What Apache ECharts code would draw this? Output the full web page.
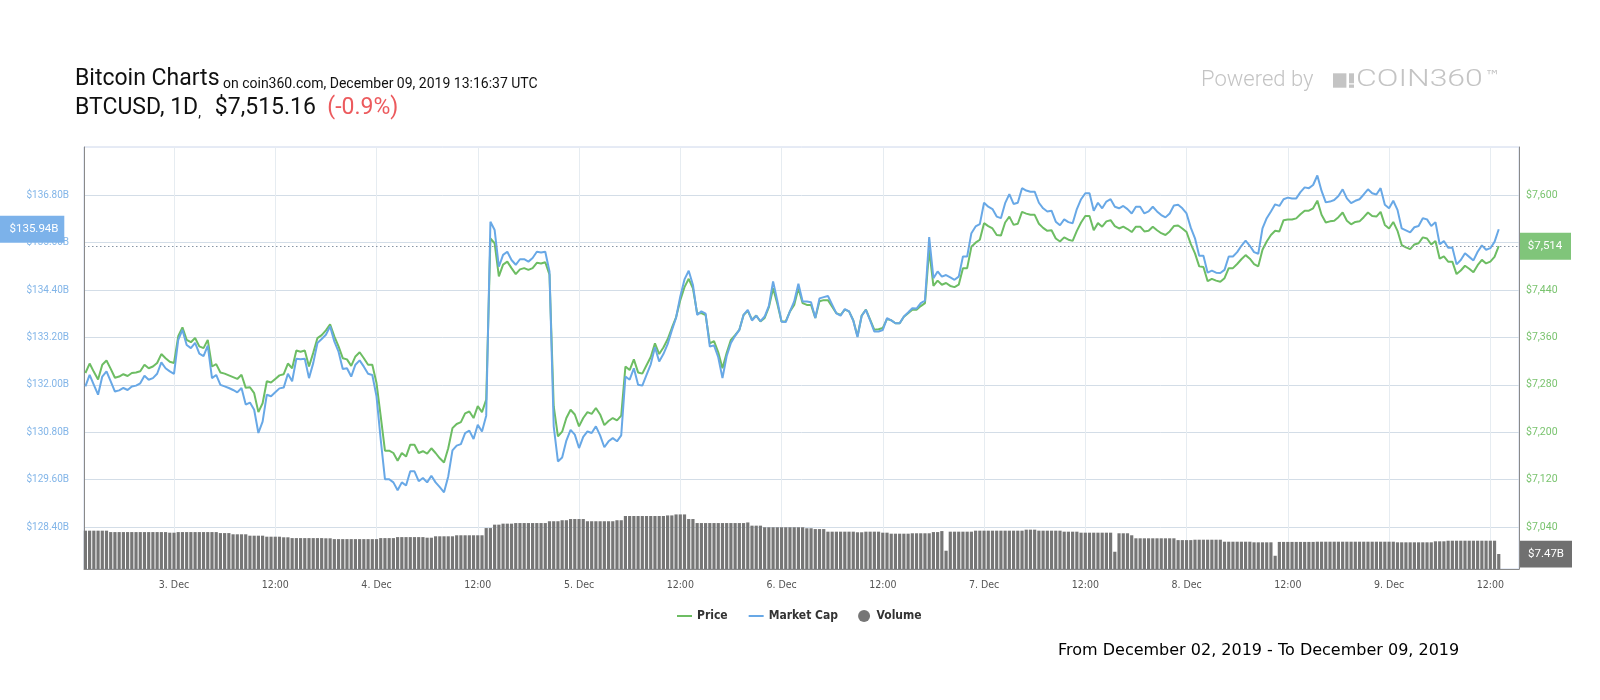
<!DOCTYPE html>
<html><head><meta charset="utf-8">
<script src="https://cdn.jsdelivr.net/npm/echarts@6/dist/echarts.min.js"></script>
<style>html,body{margin:0;padding:0;background:#fff}#c{width:1600px;height:700px}</style>
</head><body><div id="c"></div>
<script>
// 30-minute points from 2 Dec 2019 13:30 UTC to 9 Dec 2019 13:00 UTC
const startTime = Date.UTC(2019, 11, 2, 13, 30);
const stepMs = 30 * 60 * 1000;

const price = [
7300,7316,7302,7289,7314,7321,7307,7292,7294,7298,
7295,7300,7301,7303,7314,7308,7311,7317,7332,7325,
7319,7317,7362,7377,7356,7352,7359,7345,7342,7356,
7311,7315,7301,7299,7296,7293,7290,7297,7275,7276,
7266,7234,7249,7286,7284,7290,7296,7298,7316,7308,
7338,7336,7338,7311,7334,7359,7364,7372,7382,7362,
7345,7325,7323,7312,7328,7335,7325,7314,7314,7283,
7227,7169,7169,7165,7152,7165,7159,7179,7179,7165,
7168,7164,7173,7165,7156,7149,7173,7207,7214,7217,
7232,7235,7224,7244,7234,7255,7527,7519,7463,7483,
7488,7477,7467,7475,7477,7474,7477,7486,7485,7487,
7466,7244,7193,7201,7224,7238,7230,7210,7224,7234,
7231,7241,7230,7212,7219,7224,7220,7228,7311,7305,
7323,7301,7299,7313,7327,7350,7332,7343,7357,7376,
7394,7423,7445,7459,7443,7401,7401,7398,7350,7354,
7335,7308,7334,7356,7364,7373,7398,7405,7390,7397,
7387,7393,7411,7443,7417,7387,7387,7404,7415,7443,
7418,7415,7415,7393,7421,7423,7423,7412,7401,7398,
7407,7404,7389,7362,7397,7407,7390,7373,7374,7376,
7391,7389,7384,7384,7395,7401,7407,7407,7413,7418,
7508,7447,7456,7449,7452,7447,7445,7449,7477,7477,
7513,7520,7525,7553,7548,7544,7533,7532,7554,7564,
7550,7552,7572,7569,7567,7567,7552,7545,7540,7541,
7527,7522,7529,7525,7523,7540,7554,7565,7565,7541,
7553,7547,7556,7558,7548,7544,7547,7543,7538,7547,
7547,7539,7540,7547,7541,7536,7533,7539,7548,7549,
7544,7538,7518,7502,7480,7479,7455,7459,7456,7454,
7460,7477,7477,7484,7492,7499,7493,7484,7480,7508,
7522,7533,7540,7539,7558,7559,7559,7561,7568,7574,
7574,7578,7591,7567,7554,7556,7557,7563,7571,7557,
7551,7555,7556,7563,7571,7565,7564,7572,7550,7544,
7555,7540,7516,7512,7509,7517,7519,7529,7527,7517,
7523,7493,7497,7488,7488,7467,7473,7481,7476,7470,
7482,7491,7485,7488,7496,7514
];

const marketCap = [
131.96,132.25,132.00,131.75,132.21,132.34,132.09,131.83,131.86,131.92,
131.87,131.96,131.98,132.04,132.23,132.13,132.17,132.28,132.57,132.42,
132.34,132.28,133.14,133.39,133.01,132.93,133.06,132.79,132.73,132.99,
132.17,132.25,132.00,131.96,131.92,131.87,131.81,131.92,131.50,131.55,
131.37,130.78,131.07,131.75,131.71,131.81,131.91,131.93,132.28,132.09,
132.66,132.65,132.66,132.17,132.55,133.06,133.16,133.27,133.48,133.10,
132.84,132.40,132.42,132.21,132.51,132.62,132.46,132.28,132.25,131.71,
130.61,129.61,129.61,129.53,129.33,129.53,129.45,129.81,129.81,129.56,
129.64,129.53,129.70,129.53,129.41,129.28,129.68,130.34,130.46,130.50,
130.78,130.84,130.63,130.99,130.82,131.22,136.13,135.92,134.99,135.29,
135.37,135.16,135.04,135.18,135.18,135.12,135.21,135.37,135.35,135.37,
134.87,130.95,130.06,130.16,130.59,130.86,130.74,130.40,130.68,130.82,
130.78,130.95,130.72,130.42,130.57,130.65,130.57,130.72,132.21,132.13,
132.42,132.00,131.98,132.25,132.52,132.95,132.59,132.78,133.03,133.38,
133.70,134.24,134.67,134.89,134.53,133.77,133.86,133.80,132.97,133.00,
132.70,132.17,132.73,133.06,133.24,133.39,133.77,133.90,133.63,133.75,
133.61,133.73,134.00,134.62,134.13,133.60,133.59,133.86,134.11,134.56,
134.11,134.11,134.09,133.69,134.19,134.22,134.25,134.03,133.81,133.75,
133.92,133.86,133.63,133.21,133.75,133.90,133.63,133.35,133.35,133.39,
133.69,133.63,133.56,133.56,133.73,133.83,133.94,133.93,134.07,134.13,
135.74,134.70,134.87,134.74,134.78,134.72,134.66,134.74,135.25,135.25,
135.84,136.01,136.07,136.61,136.51,136.45,136.26,136.22,136.60,136.83,
136.58,136.61,136.98,136.92,136.89,136.89,136.61,136.47,136.39,136.41,
136.13,136.04,136.19,136.12,136.09,136.45,136.70,136.85,136.85,136.41,
136.61,136.47,136.64,136.70,136.51,136.47,136.53,136.45,136.34,136.51,
136.51,136.34,136.39,136.51,136.39,136.30,136.24,136.34,136.54,136.56,
136.47,136.34,135.98,135.71,135.27,135.27,134.84,134.89,134.84,134.83,
134.91,135.25,135.25,135.36,135.52,135.65,135.52,135.36,135.32,135.96,
136.22,136.39,136.57,136.53,136.70,136.74,136.72,136.72,136.88,137.00,
136.98,137.06,137.30,136.91,136.62,136.64,136.68,136.78,136.95,136.72,
136.60,136.66,136.70,136.82,136.95,136.85,136.82,136.98,136.56,136.47,
136.66,136.43,135.96,135.91,135.86,135.99,136.02,136.22,136.19,136.02,
136.12,135.56,135.64,135.47,135.48,135.05,135.16,135.33,135.24,135.15,
135.37,135.53,135.42,135.46,135.62,135.94
];

const volume = [
19.1,19.1,19.1,19.1,19.1,19.1,18.4,18.4,18.4,18.4,
18.4,18.4,18.4,18.4,18.4,18.4,18.4,18.4,18.4,18.4,
18.1,18.1,18.4,18.4,18.4,18.4,18.4,18.4,18.4,18.4,
18.4,18.4,17.9,17.9,17.9,17.3,17.3,17.3,17.3,16.6,
16.6,16.6,16.6,16.1,16.1,16.1,16.1,15.8,15.8,15.4,
15.4,15.4,15.4,15.4,15.4,15.4,15.4,15.3,15.3,14.9,
14.9,14.9,14.9,14.9,14.9,14.9,14.9,14.9,14.9,14.9,
15.4,15.4,15.4,15.4,15.9,15.9,15.9,15.9,15.9,15.9,
15.9,15.6,15.6,16.3,16.3,16.3,16.3,16.3,16.8,16.8,
16.8,16.8,16.8,16.8,16.8,20.4,20.4,22.1,22.1,22.6,
22.6,22.6,22.9,22.9,22.9,22.9,22.9,22.9,22.9,22.9,
23.8,23.8,23.8,24.3,24.3,24.9,24.9,24.9,24.9,23.8,
23.8,23.8,23.8,23.8,23.8,23.8,24.3,24.3,26.4,26.4,
26.4,26.4,26.4,26.4,26.4,26.4,26.4,26.4,26.7,26.7,
27.2,27.2,27.2,24.9,24.9,22.9,22.9,22.9,22.9,22.9,
22.9,22.9,22.9,22.9,22.9,22.9,22.9,23.2,21.6,21.6,
21.6,20.8,20.8,20.8,20.8,20.8,20.8,20.8,20.8,20.8,
20.8,20.3,20.3,19.9,19.9,19.9,18.6,18.6,18.6,18.6,
18.6,18.6,18.6,18.3,18.3,18.6,18.6,18.6,18.6,18.1,
18.1,17.6,17.6,17.6,17.6,17.6,17.8,17.8,17.8,17.8,
17.8,18.4,18.4,18.9,9.1,18.6,18.6,18.6,18.6,18.6,
18.6,19.1,19.1,19.1,19.1,19.1,19.1,19.1,19.1,19.1,
19.1,19.1,19.1,19.6,19.6,19.6,19.1,19.1,19.1,19.1,
19.1,19.1,18.6,18.6,18.6,18.6,18.1,18.1,18.1,18.1,
18.1,18.1,18.1,18.1,8.6,17.8,17.8,17.8,16.8,15.3,
15.3,15.3,15.3,15.3,15.3,15.3,15.3,15.3,15.3,14.4,
14.4,14.4,14.4,14.6,14.6,14.6,14.6,14.6,14.6,14.6,
13.6,13.6,13.6,13.6,13.6,13.6,13.6,13.3,13.3,13.3,
13.3,13.3,6.6,13.5,13.5,13.5,13.5,13.5,13.5,13.5,
13.5,13.5,13.6,13.6,13.6,13.6,13.6,13.6,13.6,13.6,
13.6,13.6,13.6,13.6,13.6,13.6,13.6,13.6,13.6,13.6,
13.6,13.3,13.3,13.3,13.3,13.3,13.3,13.3,13.3,13.3,
13.8,13.8,13.8,14.1,14.1,14.1,14.1,14.1,14.1,14.1,
14.1,14.1,14.1,14.1,14.1,7.47
];

const mcapTicks = [128.4, 129.6, 130.8, 132.0, 133.2, 134.4, 135.6, 136.8];
const priceTicks = [7040, 7120, 7200, 7280, 7360, 7440, 7520, 7600];
const timeTicks = [
  Date.UTC(2019,11,3,0), Date.UTC(2019,11,3,12), Date.UTC(2019,11,4,0), Date.UTC(2019,11,4,12),
  Date.UTC(2019,11,5,0), Date.UTC(2019,11,5,12), Date.UTC(2019,11,6,0), Date.UTC(2019,11,6,12),
  Date.UTC(2019,11,7,0), Date.UTC(2019,11,7,12), Date.UTC(2019,11,8,0), Date.UTC(2019,11,8,12),
  Date.UTC(2019,11,9,0), Date.UTC(2019,11,9,12)
];
const lastPrice = 7514;
const lastMcap = 135.94;
const lastVolume = 7.47;

const times = price.map((_, i) => startTime + i * stepMs);
const condensed = "'DejaVu Sans Condensed', 'DejaVu Sans', sans-serif";

const big = { fontFamily: 'Roboto', fontWeight: 'normal', fontSize: 23, color: '#111', lineHeight: 28, verticalAlign: 'bottom' };
const small = { fontFamily: 'Roboto', fontWeight: 'normal', fontSize: 14, color: '#111', lineHeight: 28, verticalAlign: 'bottom' };

const chart = echarts.init(document.getElementById('c'));
chart.setOption({
  animation: false,
  backgroundColor: '#ffffff',
  textStyle: { fontFamily: 'Roboto' },
  title: [
    {
      left: 75, top: 63, padding: 0,
      text: '{a|Bitcoin Charts}{b| on coin360.com, December 09, 2019 13:16:37 UTC}',
      textStyle: { fontWeight: 'normal', rich: { a: big, b: small } }
    },
    {
      left: 75, top: 92, padding: 0,
      text: '{a|BTCUSD, 1D}{b|,    }{a|$7,515.16  }{r|(-0.9%)}',
      textStyle: { fontWeight: 'normal', rich: { a: big, b: small, r: Object.assign({}, big, { color: '#ec5a5d' }) } }
    }
  ],
  legend: {
    left: 671, top: 605, itemWidth: 15, itemHeight: 12, itemGap: 20, selectedMode: false,
    textStyle: { fontFamily: condensed, fontSize: 12, fontWeight: 'bold', color: '#333' },
    data: [
      { name: 'Price', itemStyle: { opacity: 0 } },
      { name: 'Market Cap', itemStyle: { opacity: 0 } },
      { name: 'Volume', icon: 'circle' }
    ]
  },
  grid: { left: 84, right: 81, top: 147, bottom: 131, show: true, borderColor: '#ccd6eb', borderWidth: 1, outerBoundsMode: 'none' },
  xAxis: {
    type: 'value',
    min: Date.UTC(2019, 11, 2, 13, 20),
    max: Date.UTC(2019, 11, 9, 15, 24),
    axisLine: { show: true, lineStyle: { color: '#8a8a8a' } },
    axisTick: { show: false, customValues: timeTicks },
    axisLabel: {
      customValues: timeTicks, color: '#555', fontFamily: condensed, fontSize: 10.5, margin: 11,
      formatter: function (v) {
        const d = new Date(v), h = d.getUTCHours();
        return h === 0 ? d.getUTCDate() + '. Dec' : (h < 10 ? '0' : '') + h + ':00';
      }
    },
    splitLine: { show: true, lineStyle: { color: '#e6ecf1', width: 1 } }
  },
  yAxis: [
    {
      type: 'value', position: 'left', min: 127.337, max: 138.022,
      axisLine: { show: true, lineStyle: { color: '#8a8a8a' } },
      axisTick: { show: false, customValues: mcapTicks },
      axisLabel: { customValues: mcapTicks, color: '#82b5e8', fontSize: 10, margin: 15,
        formatter: v => '$' + v.toFixed(2) + 'B' },
      splitLine: { show: true, lineStyle: { color: '#d3dde7', width: 1 } }
    },
    {
      type: 'value', position: 'right', min: 6969.2, max: 7681.5,
      axisLine: { show: true, lineStyle: { color: '#8a8a8a' } },
      axisTick: { show: false, customValues: priceTicks },
      axisLabel: { customValues: priceTicks, color: '#79c36e', fontSize: 10.5, margin: 7,
        formatter: v => '$' + v.toLocaleString('en-US') },
      splitLine: { show: false }
    },
    { type: 'value', min: 0, max: 210.3, show: false }
  ],
  series: [
    {
      name: 'Volume', type: 'bar', yAxisIndex: 2, barWidth: 3.2, silent: true, z: 1,
      itemStyle: { color: '#767676' },
      data: volume.map((v, i) => [times[i], v])
    },
    {
      name: 'Price', type: 'line', yAxisIndex: 1, symbol: 'none', z: 3, silent: true,
      color: '#6dbd63',
      lineStyle: { width: 2, color: '#6dbd63' },
      data: price.map((v, i) => [times[i], v]),
      markLine: {
        silent: true, symbol: ['none', 'none'], label: { show: false },
        lineStyle: { type: [1.5, 2.5], color: '#8795a5', width: 1 },
        data: [{ yAxis: lastPrice }]
      }
    },
    {
      name: 'Market Cap', type: 'line', yAxisIndex: 0, symbol: 'none', z: 4, silent: true,
      color: '#68a8e6',
      lineStyle: { width: 2, color: '#68a8e6' },
      data: marketCap.map((v, i) => [times[i], v])
    }
  ]
});

const yM = chart.convertToPixel({ yAxisIndex: 0 }, lastMcap);
const yP = chart.convertToPixel({ yAxisIndex: 1 }, lastPrice);
const yV = chart.convertToPixel({ yAxisIndex: 2 }, lastVolume);
const logoGray = '#c4c4c4';

chart.setOption({
  graphic: [
    { type: 'text', x: 1201, y: 80.5, style: { text: 'Powered by', fill: logoGray, fontFamily: 'Roboto', fontWeight: 300, fontSize: 22, verticalAlign: 'middle' } },
    { type: 'rect', shape: { x: 1333, y: 73.3, width: 13.4, height: 14.4 }, style: { fill: logoGray } },
    { type: 'rect', shape: { x: 1349, y: 73.3, width: 5, height: 10 }, style: { fill: logoGray } },
    { type: 'rect', shape: { x: 1349, y: 84.5, width: 5, height: 3.3 }, style: { fill: logoGray } },
    { type: 'text', x: 1356, y: 80.2, scaleX: 1.36, scaleY: 1, originX: 0, originY: 0, style: { text: 'COIN360', fill: logoGray, fontFamily: 'Roboto', fontWeight: 300, fontSize: 23.5, verticalAlign: 'middle' } },
    { type: 'text', x: 1485, y: 77.5, style: { text: '™', fill: logoGray, fontFamily: "'DejaVu Sans'", fontSize: 15, verticalAlign: 'middle' } },
    { type: 'text', x: 1058, y: 651, style: { text: 'From December 02, 2019 - To December 09, 2019', fill: '#000', fontFamily: "'DejaVu Sans', sans-serif", fontSize: 16, verticalAlign: 'middle' } },
    { type: 'rect', z: 100, shape: { x: 0, y: yM - 13.6, width: 64.3, height: 27.2 }, style: { fill: '#7cb2ea' } },
    { type: 'text', z: 101, x: 34, y: yM, style: { text: '$' + lastMcap.toFixed(2) + 'B', fill: '#fff', fontFamily: 'Roboto', fontSize: 11.5, align: 'center', verticalAlign: 'middle' } },
    { type: 'rect', z: 100, shape: { x: 1520, y: yP - 13.5, width: 51, height: 27 }, style: { fill: '#80c57a' } },
    { type: 'text', z: 101, x: 1545, y: yP, style: { text: '$' + lastPrice.toLocaleString('en-US'), fill: '#fff', fontFamily: 'Roboto', fontSize: 11.5, align: 'center', verticalAlign: 'middle' } },
    { type: 'rect', z: 100, shape: { x: 1520, y: yV - 13.3, width: 52, height: 26.7 }, style: { fill: '#707070' } },
    { type: 'text', z: 101, x: 1546, y: yV, style: { text: '$' + lastVolume.toFixed(2) + 'B', fill: '#fff', fontFamily: 'Roboto', fontSize: 11.5, align: 'center', verticalAlign: 'middle' } }
  ]
});
</script>
</body></html>
